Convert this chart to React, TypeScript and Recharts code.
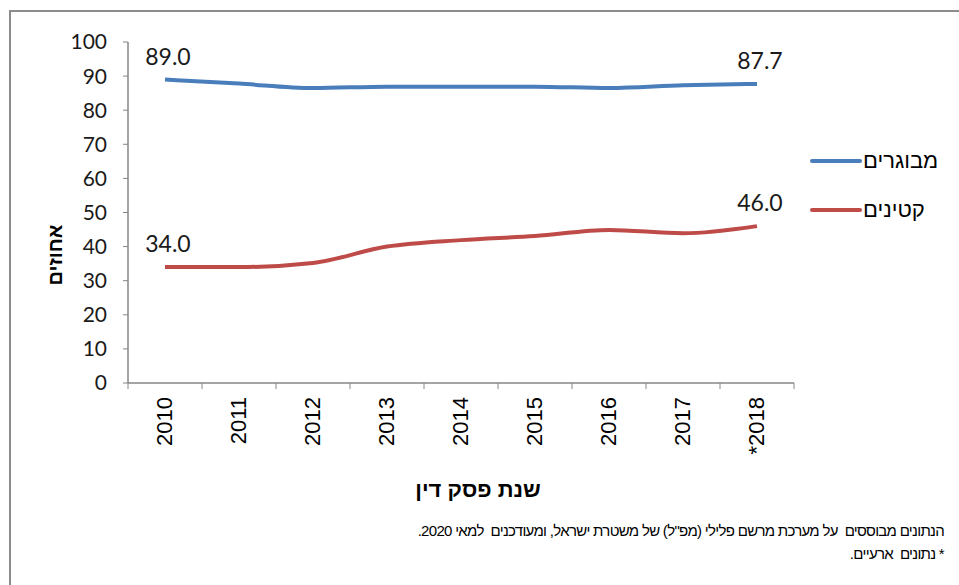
import React from 'react';
import { LineChart, Line, XAxis, YAxis, LabelList } from 'recharts';

const years = ['2010', '2011', '2012', '2013', '2014', '2015', '2016', '2017', '*2018'];
const adults = [89.0, 87.8, 86.5, 86.9, 86.9, 86.9, 86.5, 87.3, 87.7];
const minors = [34.0, 34.0, 35.2, 40.0, 41.9, 43.1, 44.9, 43.9, 46.0];
const yTicks = [0, 10, 20, 30, 40, 50, 60, 70, 80, 90, 100];

const seriesNames = { adults: 'מבוגרים', minors: 'קטינים' };
const BLUE = '#4a7ebb';
const RED = '#be4b48';
const AXIS = '#868686';
const NUM_FONT = 'Lato, "Noto Sans", sans-serif';
const HEB_FONT = '"Liberation Sans", Arial, sans-serif';

const data = years.map((year, i) => ({ year, adults: adults[i], minors: minors[i] }));

const HALF_BAND = 37;

const YearTick = (props: any) => {
  const { x, y, payload, index } = props;
  const last = index === years.length - 1;
  return (
    <g>
      <line x1={x - HALF_BAND} y1={y} x2={x - HALF_BAND} y2={y + 6} stroke={AXIS} />
      {last && <line x1={x + HALF_BAND} y1={y} x2={x + HALF_BAND} y2={y + 6} stroke={AXIS} />}
      <text
        x={x + 7}
        y={y + 14}
        transform={`rotate(-90, ${x + 7}, ${y + 14})`}
        textAnchor="end"
        fontFamily={HEB_FONT}
        fontSize={22}
        fill="#000"
      >
        {payload.value}
      </text>
    </g>
  );
};

const EndLabel = (props: any) => {
  const { x, y, value, index } = props;
  if (index !== 0 && index !== years.length - 1) return null;
  return (
    <text x={x + 3} y={y - 15} textAnchor="middle" fontFamily={NUM_FONT} fontSize={23} fill="#1a1a1a">
      {Number(value).toFixed(1)}
    </text>
  );
};

const legendItems = [
  { name: seriesNames.adults, color: BLUE },
  { name: seriesNames.minors, color: RED },
];

export default function App() {
  return (
    <div style={{ position: 'absolute', left: 0, top: 0, width: 959, height: 585, background: '#fff', overflow: 'hidden' }}>
      <div style={{ position: 'absolute', left: 9, top: 10, width: 950, height: 575, borderTop: '2px solid #8c8c8c', borderLeft: '2px solid #8c8c8c' }} />
      <LineChart width={959} height={585} data={data} margin={{ top: 42, right: 165, bottom: 92, left: 0 }}>
        <XAxis
          dataKey="year"
          type="category"
          height={110}
          padding={{ left: HALF_BAND, right: HALF_BAND }}
          axisLine={{ stroke: AXIS, strokeWidth: 1.5 }}
          tickLine={false}
          tickSize={0}
          tickMargin={0}
          interval={0}
          tick={<YearTick />}
        />
        <YAxis
          width={128}
          domain={[0, 100]}
          ticks={yTicks}
          interval={0}
          axisLine={{ stroke: AXIS, strokeWidth: 1.5 }}
          tickLine={{ stroke: AXIS }}
          tickSize={5}
          tickMargin={16}
          tick={{ fontFamily: NUM_FONT, fontSize: 21, fill: '#1a1a1a' }}
        />
        <Line
          type="monotone"
          dataKey="adults"
          name={seriesNames.adults}
          stroke={BLUE}
          strokeWidth={4}
          dot={false}
          isAnimationActive={false}
        >
          <LabelList dataKey="adults" content={<EndLabel />} />
        </Line>
        <Line
          type="monotone"
          dataKey="minors"
          name={seriesNames.minors}
          stroke={RED}
          strokeWidth={4}
          dot={false}
          isAnimationActive={false}
        >
          <LabelList dataKey="minors" content={<EndLabel />} />
        </Line>
      </LineChart>
      <div style={{ position: 'absolute', left: 810, top: 136, fontFamily: HEB_FONT, fontSize: 22, color: '#000' }}>
        {legendItems.map((s) => (
          <div key={s.name} style={{ display: 'flex', alignItems: 'center', height: 49 }}>
            <div style={{ width: 52, height: 4, borderRadius: 2, background: s.color }} />
            <span style={{ marginLeft: 1 }}>{s.name}</span>
          </div>
        ))}
      </div>
      <div
        style={{
          position: 'absolute',
          left: 55,
          top: 255,
          transform: 'translate(-50%, -50%) rotate(-90deg)',
          fontFamily: HEB_FONT,
          fontWeight: 'bold',
          fontSize: 20,
          whiteSpace: 'nowrap',
        }}
      >
        אחוזים
      </div>
      <div
        style={{
          position: 'absolute',
          left: 478,
          top: 490,
          transform: 'translate(-50%, -50%)',
          fontFamily: HEB_FONT,
          fontWeight: 'bold',
          fontSize: 22,
          whiteSpace: 'nowrap',
        }}
      >
        שנת פסק דין
      </div>
      <div
        style={{
          position: 'absolute',
          right: 15,
          top: 519,
          direction: 'rtl',
          textAlign: 'right',
          fontFamily: HEB_FONT,
          fontSize: 15,
          letterSpacing: -0.7,
          lineHeight: '23px',
          whiteSpace: 'pre',
          color: '#000',
        }}
      >
        <div>הנתונים מבוססים  על מערכת מרשם פלילי (מפ"ל) של משטרת ישראל, ומעודכנים  למאי 2020.</div>
        <div>* נתונים  ארעיים.</div>
      </div>
    </div>
  );
}
